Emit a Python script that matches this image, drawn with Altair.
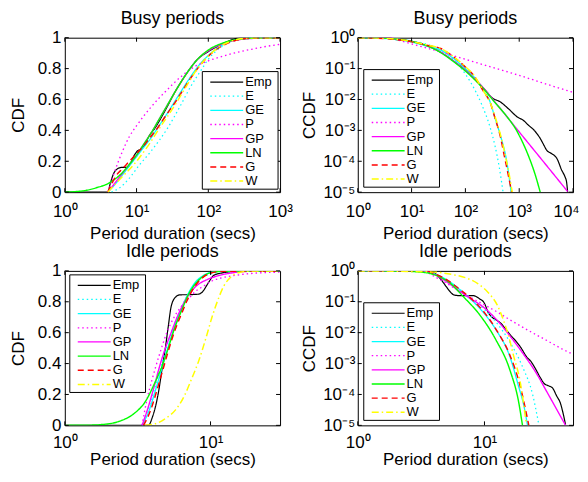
import altair as alt
import pandas as pd

# ---------------- series definitions ----------------
SERIES = ["Emp", "E", "GE", "P", "GP", "LN", "G", "W"]
COLORS = ["#000000", "#00ffff", "#00ffff", "#ff00ff", "#ff00ff", "#00ff00", "#ff0000", "#ffff00"]
DASHES = [[1, 0], [1.5, 3], [1, 0], [1.5, 3], [1, 0], [1, 0], [6, 4], [7, 3, 1.5, 3]]
WIDTHS = [1.2, 1.5, 2.0, 1.5, 1.5, 2.0, 1.5, 1.5]

# ---------------- Busy periods, CDF  (log10 x, CDF) ----------------
busy_cdf_Emp = [(0.0, 0.0), (0.60, 0.0), (0.63, 0.05), (0.68, 0.12), (0.73, 0.15), (0.79, 0.16), (0.87, 0.16),
                (0.92, 0.19), (0.97, 0.24), (1.02, 0.27), (1.07, 0.28), (1.12, 0.31), (1.17, 0.36), (1.25, 0.41),
                (1.4, 0.53), (1.55, 0.66), (1.7, 0.77), (1.85, 0.86), (2.0, 0.91), (2.2, 0.96), (2.35, 0.99),
                (2.45, 1.0), (3.0, 1.0)]
busy_cdf_E = [(0.65, 0.0), (0.77, 0.03), (0.89, 0.085), (1.03, 0.17), (1.21, 0.27), (1.44, 0.42), (1.6, 0.55),
              (1.75, 0.68), (1.9, 0.79), (2.0, 0.86), (2.1, 0.91), (2.25, 0.96), (2.4, 0.985), (2.6, 0.998),
              (3.0, 1.0)]
busy_cdf_GE = [(0.6, 0.0), (0.7, 0.05), (0.8, 0.11), (0.9, 0.17), (1.0, 0.23), (1.1, 0.29), (1.2, 0.35),
               (1.3, 0.42), (1.4, 0.49), (1.55, 0.6), (1.7, 0.71), (1.85, 0.81), (2.0, 0.885), (2.15, 0.94),
               (2.3, 0.975), (2.45, 0.992), (2.6, 0.999), (3.0, 1.0)]
busy_cdf_P = [(0.6, 0.0), (0.65, 0.07), (0.7, 0.14), (0.8, 0.26), (0.9, 0.36), (1.0, 0.43), (1.2, 0.55),
              (1.4, 0.65), (1.6, 0.74), (1.8, 0.81), (2.0, 0.85), (2.2, 0.88), (2.4, 0.905), (2.6, 0.925),
              (2.8, 0.943), (3.0, 0.957)]
busy_cdf_GP = [(0.6, 0.0), (0.7, 0.06), (0.8, 0.12), (0.9, 0.18), (1.0, 0.24), (1.1, 0.31), (1.2, 0.38),
               (1.3, 0.46), (1.4, 0.54), (1.55, 0.66), (1.7, 0.77), (1.85, 0.86), (2.0, 0.915), (2.2, 0.96),
               (2.4, 0.985), (2.7, 0.997), (3.0, 1.0)]
busy_cdf_LN = [(0.0, 0.0), (0.3, 0.012), (0.45, 0.03), (0.6, 0.055), (0.7, 0.085), (0.8, 0.125), (0.9, 0.18),
               (1.0, 0.24), (1.1, 0.31), (1.2, 0.38), (1.3, 0.46), (1.4, 0.54), (1.55, 0.66), (1.7, 0.77),
               (1.85, 0.86), (2.0, 0.92), (2.2, 0.965), (2.4, 0.988), (2.7, 0.998), (3.0, 1.0)]
busy_cdf_G = [(0.6, 0.0), (0.65, 0.05), (0.72, 0.11), (0.8, 0.15), (0.9, 0.2), (1.0, 0.25), (1.1, 0.3),
              (1.2, 0.36), (1.3, 0.42), (1.4, 0.49), (1.55, 0.59), (1.7, 0.7), (1.85, 0.8), (2.0, 0.88),
              (2.15, 0.935), (2.3, 0.97), (2.45, 0.99), (2.6, 0.998), (3.0, 1.0)]
busy_cdf_W = [(0.6, 0.0), (0.7, 0.05), (0.8, 0.1), (0.885, 0.14), (1.0, 0.2), (1.16, 0.3), (1.3, 0.4),
              (1.53, 0.56), (1.7, 0.69), (1.85, 0.8), (2.0, 0.88), (2.15, 0.94), (2.3, 0.975), (2.45, 0.993),
              (2.6, 0.999), (3.0, 1.0)]

# ---------------- Busy periods, CCDF (log10 x, log10 CCDF) ----------------
busy_ccdf_Emp = [(0.0, 0.0), (0.6, 0.0), (0.65, -0.03), (0.72, -0.065), (0.85, -0.075), (0.95, -0.1),
                 (1.02, -0.13), (1.1, -0.16), (1.17, -0.2), (1.3, -0.27), (1.54, -0.47), (1.8, -0.78),
                 (2.0, -1.05), (2.15, -1.3), (2.34, -1.64), (2.5, -1.95), (2.65, -2.08), (2.8, -2.3),
                 (2.96, -2.56), (3.08, -2.68), (3.17, -2.83), (3.28, -3.0), (3.39, -3.26), (3.45, -3.45),
                 (3.51, -3.64), (3.6, -3.75), (3.7, -3.91), (3.79, -4.29), (3.85, -4.5), (3.88, -4.67),
                 (3.9, -5.0)]
busy_ccdf_E = [(0.0, 0.0), (0.5, -0.02), (1.0, -0.1), (1.3, -0.22), (1.6, -0.45), (1.9, -0.95), (2.1, -1.45),
               (2.3, -2.15), (2.45, -2.85), (2.55, -3.5), (2.63, -4.2), (2.7, -5.0)]
busy_ccdf_GE = [(0.0, 0.0), (0.3, -0.01), (0.6, -0.04), (1.0, -0.14), (1.3, -0.28), (1.54, -0.4), (1.8, -0.7),
                (2.0, -1.0), (2.15, -1.25), (2.34, -1.72), (2.46, -2.08), (2.55, -2.6), (2.65, -3.16),
                (2.77, -4.02), (2.85, -5.0)]
busy_ccdf_P = [(0.6, 0.0), (1.0, -0.2), (1.54, -0.46), (2.0, -0.7), (2.5, -0.96), (3.0, -1.22), (3.5, -1.5),
               (4.0, -1.77)]
busy_ccdf_GP = [(0.0, 0.0), (0.6, 0.0), (0.7, -0.03), (0.8, -0.06), (1.0, -0.12), (1.3, -0.27), (1.54, -0.47),
                (1.8, -0.78), (2.0, -1.06), (2.15, -1.3), (2.34, -1.64), (2.6, -2.19), (3.0, -3.05),
                (3.5, -4.12), (3.9, -4.98)]
busy_ccdf_LN = [(0.0, 0.0), (0.3, -0.005), (0.6, -0.025), (0.8, -0.06), (1.0, -0.12), (1.3, -0.27),
                (1.54, -0.48), (1.8, -0.8), (2.0, -1.08), (2.15, -1.32), (2.34, -1.66), (2.55, -2.1),
                (2.77, -2.55), (2.95, -3.0), (3.08, -3.45), (3.2, -3.95), (3.3, -4.45), (3.39, -5.0)]
busy_ccdf_G = [(0.0, 0.0), (0.3, -0.01), (0.6, -0.04), (1.0, -0.13), (1.3, -0.25), (1.54, -0.35), (1.8, -0.65),
               (2.0, -0.95), (2.15, -1.21), (2.34, -1.75), (2.46, -2.1), (2.55, -2.6), (2.65, -3.2),
               (2.72, -3.8), (2.78, -4.3), (2.86, -5.0)]
busy_ccdf_W = [(0.0, 0.0), (0.3, -0.005), (0.6, -0.03), (1.0, -0.12), (1.3, -0.24), (1.54, -0.35), (1.8, -0.64),
               (2.0, -0.94), (2.15, -1.2), (2.34, -1.74), (2.46, -2.1), (2.56, -2.6), (2.66, -3.2),
               (2.74, -3.8), (2.8, -4.3), (2.87, -5.0)]

# ---------------- Idle periods, CDF (log10 x, CDF) ----------------
idle_cdf_Emp = [(0.0, 0.0), (0.574, 0.0), (0.6, 0.05), (0.64, 0.2), (0.67, 0.38), (0.69, 0.5), (0.71, 0.64),
                (0.73, 0.77), (0.76, 0.83), (0.79, 0.845), (0.85, 0.846), (0.92, 0.85), (0.95, 0.87),
                (0.97, 0.9), (0.99, 0.93), (1.02, 0.97), (1.07, 0.985), (1.14, 0.995), (1.25, 1.0),
                (1.477, 1.0)]
idle_cdf_E = [(0.53, 0.0), (0.57, 0.1), (0.61, 0.22), (0.65, 0.35), (0.69, 0.48), (0.73, 0.6), (0.78, 0.72),
              (0.83, 0.82), (0.88, 0.9), (0.95, 0.96), (1.02, 0.985), (1.12, 0.997), (1.477, 1.0)]
idle_cdf_GE = [(0.53, 0.0), (0.58, 0.1), (0.62, 0.22), (0.66, 0.35), (0.7, 0.48), (0.74, 0.6), (0.79, 0.73),
               (0.84, 0.84), (0.89, 0.92), (0.95, 0.97), (1.0, 0.99), (1.1, 0.999), (1.477, 1.0)]
idle_cdf_P = [(0.53, 0.0), (0.56, 0.15), (0.6, 0.3), (0.65, 0.46), (0.7, 0.6), (0.75, 0.7), (0.8, 0.77),
              (0.85, 0.82), (0.9, 0.87), (0.95, 0.9), (1.0, 0.93), (1.1, 0.96), (1.2, 0.975), (1.3, 0.985),
              (1.477, 0.992)]
idle_cdf_GP = [(0.53, 0.0), (0.57, 0.11), (0.61, 0.24), (0.65, 0.38), (0.69, 0.5), (0.73, 0.6), (0.78, 0.72),
               (0.84, 0.83), (0.9, 0.9), (0.98, 0.945), (1.05, 0.968), (1.17, 0.99), (1.3, 0.998),
               (1.477, 1.0)]
idle_cdf_LN = [(0.0, 0.0), (0.15, 0.001), (0.25, 0.005), (0.37, 0.025), (0.48, 0.08), (0.55, 0.15),
               (0.62, 0.28), (0.67, 0.39), (0.71, 0.5), (0.75, 0.62), (0.8, 0.74), (0.85, 0.85), (0.9, 0.92),
               (0.95, 0.965), (1.0, 0.988), (1.1, 0.998), (1.477, 1.0)]
idle_cdf_G = [(0.54, 0.0), (0.59, 0.1), (0.63, 0.22), (0.67, 0.35), (0.71, 0.48), (0.75, 0.6), (0.8, 0.72),
              (0.85, 0.83), (0.9, 0.91), (0.95, 0.96), (1.0, 0.985), (1.08, 0.997), (1.477, 1.0)]
idle_cdf_W = [(0.55, 0.0), (0.62, 0.01), (0.7, 0.05), (0.76, 0.1), (0.82, 0.19), (0.87, 0.3), (0.92, 0.42),
              (0.97, 0.57), (1.01, 0.7), (1.05, 0.81), (1.09, 0.9), (1.14, 0.96), (1.2, 0.99), (1.3, 1.0),
              (1.477, 1.0)]

# ---------------- Idle periods, CCDF (log10 x, log10 CCDF) ----------------
idle_ccdf_Emp = [(0.0, 0.0), (0.574, 0.0), (0.6, -0.05), (0.64, -0.2), (0.67, -0.35), (0.7, -0.52),
                 (0.73, -0.68), (0.76, -0.78), (0.8, -0.8), (0.91, -0.8), (0.96, -0.9), (1.0, -1.05),
                 (1.03, -1.35), (1.06, -1.5), (1.09, -1.58), (1.13, -1.7), (1.17, -1.9), (1.21, -2.1),
                 (1.25, -2.28), (1.29, -2.5), (1.33, -2.77), (1.37, -2.95), (1.40, -3.15), (1.44, -3.45),
                 (1.47, -3.64), (1.505, -3.72), (1.535, -3.78), (1.57, -4.05), (1.6, -4.29), (1.62, -4.6),
                 (1.64, -4.98)]
idle_ccdf_E = [(0.0, 0.0), (0.53, 0.0), (0.6, -0.1), (0.7, -0.3), (0.8, -0.58), (0.9, -0.9), (1.0, -1.25),
               (1.1, -1.7), (1.2, -2.3), (1.3, -3.1), (1.38, -4.0), (1.43, -5.0)]
idle_ccdf_GE = [(0.0, 0.0), (0.5, 0.0), (0.55, -0.04), (0.65, -0.17), (0.75, -0.42), (0.83, -0.7),
                (0.96, -1.2), (1.09, -1.9), (1.2, -2.77), (1.27, -3.75), (1.31, -4.35), (1.34, -5.0)]
idle_ccdf_P = [(0.53, 0.0), (0.6, -0.17), (0.7, -0.4), (0.8, -0.65), (0.9, -0.88), (1.0, -1.1), (1.1, -1.33),
               (1.2, -1.58), (1.3, -1.82), (1.4, -2.05), (1.5, -2.27), (1.6, -2.5), (1.699, -2.7)]
idle_ccdf_GP = [(0.0, 0.0), (0.53, 0.0), (0.6, -0.1), (0.7, -0.35), (0.8, -0.65), (0.9, -0.92), (1.0, -1.2),
                (1.1, -1.6), (1.2, -2.1), (1.3, -2.65), (1.4, -3.25), (1.5, -3.97), (1.64, -5.0)]
idle_ccdf_LN = [(0.0, 0.0), (0.3, -0.002), (0.48, -0.035), (0.57, -0.08), (0.65, -0.2), (0.73, -0.4),
                (0.83, -0.82), (0.96, -1.41), (1.09, -2.23), (1.2, -3.2), (1.27, -4.25), (1.30, -5.0)]
idle_ccdf_G = [(0.0, 0.0), (0.54, 0.0), (0.6, -0.08), (0.7, -0.28), (0.8, -0.58), (0.9, -0.92), (1.0, -1.35),
               (1.1, -1.95), (1.2, -2.72), (1.28, -3.7), (1.35, -5.0)]
idle_ccdf_W = [(0.0, 0.0), (0.3, -0.01), (0.6, -0.04), (0.75, -0.12), (0.85, -0.22), (0.95, -0.42),
               (1.04, -0.75), (1.1, -1.1), (1.15, -1.6), (1.19, -2.1), (1.23, -2.75), (1.28, -3.55),
               (1.33, -4.95)]

# ---------------- axis tick values ----------------
busy_cdf_xticks = [1, 10, 100, 1000]
busy_ccdf_xticks = [1, 10, 100, 1000, 10000]
idle_xticks = [1, 10]
cdf_yticks = [0, 0.2, 0.4, 0.6, 0.8, 1.0]
ccdf_yticks = [1e-5, 1e-4, 1e-3, 1e-2, 1e-1, 1]

W_PLOT, H_PLOT, TICK = 216, 155, 4
LEG_W, LEG_H, LEG_ROW0, LEG_PITCH = 76, 118, 10.5, 14.2
FONT = "Liberation Sans"
SUP = ("'10' + (datum.value < 1 ? '\u207b' : '') + "
       "['\u2070','\u00b9','\u00b2','\u00b3','\u2074','\u2075'][abs(round(log(datum.value)/LN10))]")

CSCALE = alt.Scale(domain=SERIES, range=COLORS)
DSCALE = alt.Scale(domain=SERIES, range=DASHES)
WSCALE = alt.Scale(domain=SERIES, range=WIDTHS)


def style_enc():
    return dict(
        color=alt.Color("s:N", scale=CSCALE, legend=None),
        strokeDash=alt.StrokeDash("s:N", scale=DSCALE, legend=None),
        strokeWidth=alt.StrokeWidth("s:N", scale=WSCALE, legend=None),
    )


def panel(series_lists, title, ylog, xmax, xticks, yticks, ytitle, lx, ly, xlp, xtp):
    rows = []
    for name, pts in zip(SERIES, series_lists):
        for a, b in pts:
            rows.append({"s": name, "x": 10 ** a, "y": (10 ** b) if ylog else b})
    df = pd.DataFrame(rows)

    xscale = alt.Scale(type="log", domain=[1, xmax], nice=False)
    xaxis_kw = dict(values=xticks, labelExpr=SUP, title="Period duration (secs)", ticks=False,
                    domain=False, grid=False, labelFlush=False, labelOverlap=False, labelPadding=xlp,
                    titlePadding=xtp)
    if xmax >= 10000:
        # keep the last label inside the page
        xaxis_kw["labelOffset"] = {"condition": {"test": "datum.value >= 10000", "value": -7}, "value": 0}
    xaxis = alt.Axis(**xaxis_kw)
    if ylog:
        yscale = alt.Scale(type="log", domain=[1e-5, 1], nice=False)
        yaxis = alt.Axis(values=yticks, labelExpr=SUP, title=ytitle, ticks=False, domain=False,
                         grid=False, labelFlush=False, labelOverlap=False, labelPadding=3, titlePadding=4)
    else:
        yscale = alt.Scale(domain=[0, 1], nice=False, zero=False)
        yaxis = alt.Axis(values=yticks, format="~g", title=ytitle, ticks=False, domain=False,
                         grid=False, labelFlush=False, labelOverlap=False, labelPadding=4, titlePadding=10)

    xe = alt.X("x:Q", scale=xscale, axis=xaxis)
    ye = alt.Y("y:Q", scale=yscale, axis=yaxis)
    lines = alt.Chart(df).mark_line(clip=True, interpolate="monotone", strokeCap="butt").encode(
        x=xe, y=ye, **style_enc())

    xt = pd.DataFrame({"x": xticks})
    yt = pd.DataFrame({"y": yticks})
    tb = alt.Chart(xt).mark_rule(color="black", strokeWidth=1).encode(
        x=xe, y=alt.value(H_PLOT), y2=alt.value(H_PLOT - TICK))
    tt = alt.Chart(xt).mark_rule(color="black", strokeWidth=1).encode(
        x=xe, y=alt.value(0), y2=alt.value(TICK))
    tl = alt.Chart(yt).mark_rule(color="black", strokeWidth=1).encode(
        y=ye, x=alt.value(0), x2=alt.value(TICK))
    tr = alt.Chart(yt).mark_rule(color="black", strokeWidth=1).encode(
        y=ye, x=alt.value(W_PLOT - TICK), x2=alt.value(W_PLOT))
    plot = alt.layer(lines, tb, tt, tl, tr)

    # legend box drawn inside the axes, like the original
    leg_df = pd.DataFrame({"s": SERIES})
    ly_scale = alt.Scale(type="point", domain=SERIES, padding=0,
                         range=[ly + LEG_ROW0, ly + LEG_ROW0 + LEG_PITCH * (len(SERIES) - 1)])
    ley = alt.Y("s:N", scale=ly_scale, axis=None)
    box = alt.Chart(pd.DataFrame({"k": [0]})).mark_rect(
        fill="white", stroke="black", strokeWidth=1).encode(
        x=alt.value(lx), x2=alt.value(lx + LEG_W), y=alt.value(ly), y2=alt.value(ly + LEG_H))
    syms = alt.Chart(leg_df).mark_rule(strokeCap="butt").encode(
        y=ley, x=alt.value(lx + 8), x2=alt.value(lx + 41), **style_enc())
    labs = alt.Chart(leg_df).mark_text(align="left", baseline="middle", fontSize=13, font=FONT,
                                       color="black").encode(
        y=ley, x=alt.value(lx + 43), text="s:N")
    legend = alt.layer(box, syms, labs)

    return alt.layer(plot, legend).resolve_scale(y="independent").properties(
        width=W_PLOT, height=H_PLOT,
        title=alt.TitleParams(title, fontSize=18, fontWeight="normal", font=FONT, offset=1,
                              color="black"))


p1 = panel([busy_cdf_Emp, busy_cdf_E, busy_cdf_GE, busy_cdf_P, busy_cdf_GP, busy_cdf_LN, busy_cdf_G,
            busy_cdf_W], "Busy periods", False, 1000, busy_cdf_xticks, cdf_yticks, "CDF", 138, 34, 11, 6)
p2 = panel([busy_ccdf_Emp, busy_ccdf_E, busy_ccdf_GE, busy_ccdf_P, busy_ccdf_GP, busy_ccdf_LN, busy_ccdf_G,
            busy_ccdf_W], "Busy periods", True, 10000, busy_ccdf_xticks, ccdf_yticks, "CCDF", 6, 32, 11, 6)
p3 = panel([idle_cdf_Emp, idle_cdf_E, idle_cdf_GE, idle_cdf_P, idle_cdf_GP, idle_cdf_LN, idle_cdf_G,
            idle_cdf_W], "Idle periods", False, 30, idle_xticks, cdf_yticks, "CDF", 5, 4, 9, 1)
p4 = panel([idle_ccdf_Emp, idle_ccdf_E, idle_ccdf_GE, idle_ccdf_P, idle_ccdf_GP, idle_ccdf_LN, idle_ccdf_G,
            idle_ccdf_W], "Idle periods", True, 50, idle_xticks, ccdf_yticks, "CCDF", 6, 32, 9, 1)

chart = alt.concat(p1, p2, p3, p4, columns=2, bounds="flush",
                   spacing={"row": 79, "column": 78}).configure(
    font=FONT, padding=0
).configure_view(stroke="black", strokeWidth=1).configure_axis(
    labelFontSize=17, titleFontSize=17, labelFont=FONT, titleFont=FONT, labelColor="black",
    titleColor="black", titleFontWeight="normal"
)

chart.save("out.html", embed_options={"renderer": "svg", "actions": False})
